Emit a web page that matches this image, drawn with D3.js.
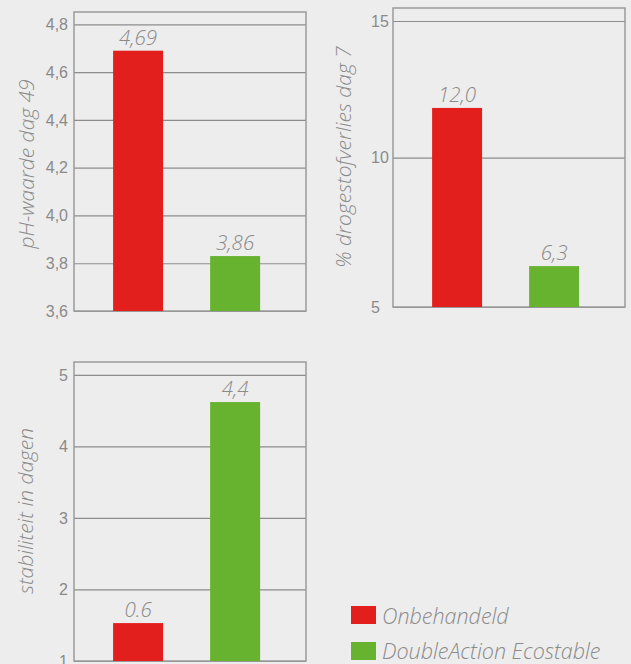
<!DOCTYPE html>
<html>
<head>
<meta charset="utf-8">
<script src="https://cdn.jsdelivr.net/npm/d3@7"></script>
<style>
  body { margin: 0; background: #ededed; }
  svg { display: block; font-family: "Open Sans", sans-serif; }
  .tick text { fill: #8a8a8a; font-size: 16px; font-weight: 300; }
</style>
</head>
<body>
<svg id="chart" width="631" height="664"></svg>
<script>
// data
const categories = ["Onbehandeld", "DoubleAction Ecostable"];
const colors = ["#e31f1d", "#67b22f"];

const phValues = [4.69, 3.83];
const phLabels = ["4,69", "3,86"];
const phTicks = [3.6, 3.8, 4.0, 4.2, 4.4, 4.6, 4.8];

const dsValues = [11.82, 6.37];
const dsLabels = ["12,0", "6,3"];
const dsTicks = [5, 10, 15];

const stabValues = [1.53, 4.62];
const stabLabels = ["0.6", "4,4"];
const stabTicks = [1, 2, 3, 4, 5];

const svg = d3.select("#chart");
const fmt = d => d3.format(".1f")(d).replace(".", ",");

function panel(opt) {
  const x = d3.scaleBand()
    .domain(categories)
    .range([opt.x0, opt.x1])
    .paddingInner(0.485)
    .paddingOuter(0.438)
    .align(0.46);

  const y = d3.scaleLinear()
    .domain(opt.domain)
    .range(opt.range);

  const g = svg.append("g");

  // grid + tick labels
  const ax = g.append("g")
    .attr("transform", `translate(${opt.x0},0)`)
    .call(d3.axisLeft(y)
      .tickValues(opt.ticks)
      .tickSize(-(opt.x1 - opt.x0))
      .tickPadding(6)
      .tickFormat(opt.format));
  ax.select(".domain").remove();
  ax.selectAll(".tick line").attr("stroke", "#8c8c8c").attr("stroke-width", 1.2);
  if (opt.anchorStart) {
    ax.selectAll(".tick text").attr("text-anchor", "start").attr("x", opt.anchorStart);
  }

  const yTop = opt.range[opt.range.length - 1];
  const yBot = opt.range[0];

  // frame
  g.append("rect")
    .attr("x", opt.x0).attr("y", yTop)
    .attr("width", opt.x1 - opt.x0).attr("height", yBot - yTop)
    .attr("fill", "none").attr("stroke", "#9a9a9a").attr("stroke-width", 1.5);

  // bars
  g.selectAll(".bar")
    .data(opt.values)
    .join("rect")
    .attr("x", (d, i) => x(categories[i]))
    .attr("y", d => y(d))
    .attr("width", x.bandwidth())
    .attr("height", d => yBot - y(d))
    .attr("fill", (d, i) => colors[i]);

  // value labels
  g.selectAll(".lbl")
    .data(opt.values)
    .join("text")
    .attr("x", (d, i) => x(categories[i]) + x.bandwidth() / 2)
    .attr("y", d => y(d) - 6)
    .attr("text-anchor", "middle")
    .attr("font-size", 20.5)
    .attr("font-style", "italic")
    .attr("font-weight", 300)
    .attr("fill", "#8a8a8a")
    .text((d, i) => opt.labels[i]);

  // axis title
  g.append("text")
    .attr("transform", `translate(${opt.titleX},${opt.titleY}) rotate(-90)`)
    .attr("text-anchor", "middle")
    .attr("dy", "0.35em")
    .attr("font-size", 21)
    .attr("font-style", "italic")
    .attr("font-weight", 300)
    .attr("fill", "#8a8a8a")
    .text(opt.title);
}

panel({ x0: 74, x1: 306, domain: [3.6, 4.852], range: [311, 12],
  values: phValues, labels: phLabels, ticks: phTicks, format: fmt,
  title: "pH-waarde dag 49", titleX: 27, titleY: 164 });

panel({ x0: 393, x1: 625, domain: [5, 10, 15, 15.48], range: [307, 157.7, 21, 8],
  values: dsValues, labels: dsLabels, ticks: dsTicks, format: d3.format("d"),
  anchorStart: -22, title: "% drogestofverlies dag 7", titleX: 344, titleY: 157 });

panel({ x0: 74, x1: 306, domain: [1, 5.18], range: [661, 362],
  values: stabValues, labels: stabLabels, ticks: stabTicks, format: d3.format("d"),
  title: "stabiliteit in dagen", titleX: 26, titleY: 511 });

// legend
const legend = svg.append("g").attr("transform", "translate(351,606)");
const li = legend.selectAll("g")
  .data(categories)
  .join("g")
  .attr("transform", (d, i) => `translate(0,${i * 36})`);
li.append("rect")
  .attr("width", 25).attr("height", 18)
  .attr("fill", (d, i) => colors[i]);
li.append("text")
  .attr("x", 31).attr("y", (d, i) => i ? 16.5 : 18)
  .attr("font-size", 21.5)
  .attr("font-style", "italic")
  .attr("font-weight", 300)
  .attr("fill", "#8a8a8a")
  .text(d => d);
</script>
</body>
</html>
